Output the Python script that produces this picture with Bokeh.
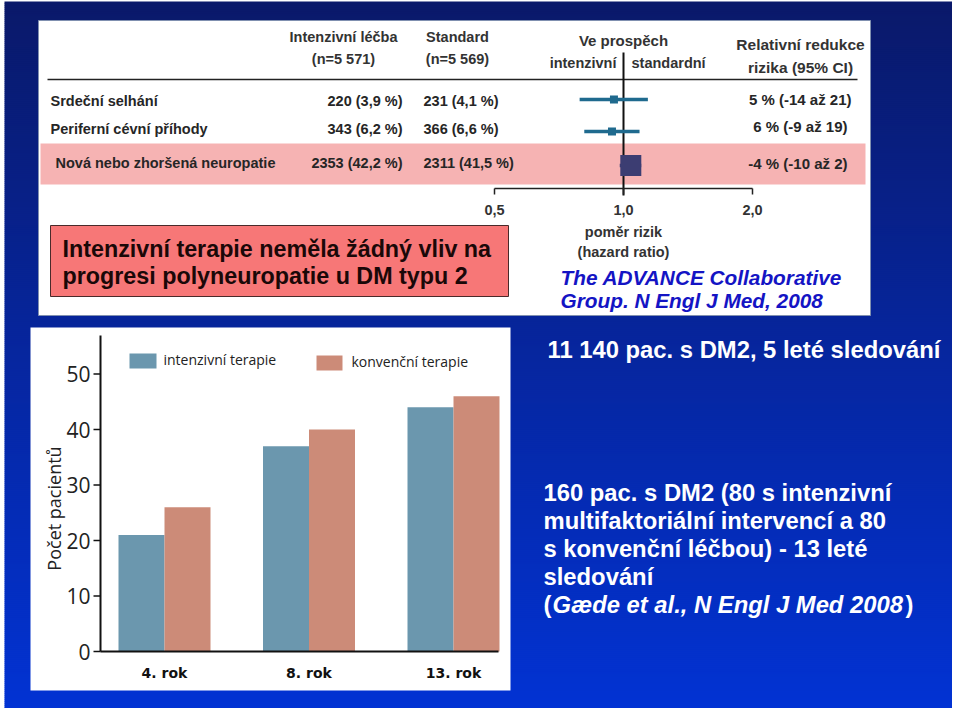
import numpy as np
from bokeh.plotting import figure
from bokeh.models import Range1d
from bokeh.core.properties import value
from bokeh.embed import file_html
from bokeh.resources import INLINE

# ---------------- data ----------------
# ADVANCE table / forest plot
outcomes = ["Srdeční selhání", "Periferní cévní příhody", "Nová nebo zhoršená neuropatie"]
intensive_n = ["220 (3,9 %)", "343 (6,2 %)", "2353 (42,2 %)"]
standard_n = ["231 (4,1 %)", "366 (6,6 %)", "2311 (41,5 %)"]
hr = [0.95, 0.94, 1.04]
hr_lo = [0.79, 0.81, 0.98]
hr_hi = [1.14, 1.09, 1.10]
rrr_text = ["5 % (-14 až 21)", "6 % (-9 až 19)", "-4 % (-10 až 2)"]
hr_ticks = [0.5, 1.0, 2.0]
hr_tick_labels = ["0,5", "1,0", "2,0"]

# Steno-2 bar chart
years = ["4. rok", "8. rok", "13. rok"]
intenzivni = [21, 37, 44]
konvencni = [26, 40, 46]
bar_ticks = [0, 10, 20, 30, 40, 50]

# ---------------- figure (pixel coordinates of the slide) ----------------
W, H = 952, 708
X0, Y0 = 0, 0
p = figure(width=W, height=H, x_range=Range1d(X0, X0 + W), y_range=Range1d(Y0 + H, Y0),
           output_backend="svg", toolbar_location=None, min_border=0,
           x_axis_location=None, y_axis_location=None)
p.grid.visible = False
p.outline_line_color = None
p.background_fill_color = "white"
p.border_fill_color = "white"


def lin_range(v0, px0, v1, px1, lo, hi):
    k = (px1 - px0) / (v1 - v0)
    return Range1d(start=v0 + (lo - px0) / k, end=v0 + (hi - px0) / k)


# forest plot x (log2 of hazard ratio), bar chart x and y
p.extra_x_ranges = {
    "hr": lin_range(-1, 494, 1, 752, X0, X0 + W),
    "bx": lin_range(0, 164, 2, 453, X0, X0 + W),
}
p.extra_y_ranges = {"by": lin_range(0, 651, 50, 373.5, Y0 + H, Y0)}

# ---------------- background gradient ----------------
def hex2rgb(h):
    return [int(h[i:i + 2], 16) for i in (1, 3, 5)]

c_top, c_bot = hex2rgb("#0a196a"), hex2rgb("#0233d4")
edges = np.arange(1, Y0 + H + 2, 2)
cols = []
for e in edges[:-1]:
    t = (e - 1) / 712
    rgb = [int(round(a + (b - a) * t)) for a, b in zip(c_top, c_bot)]
    cols.append("#%02x%02x%02x" % tuple(rgb))
p.quad(left=4, right=X0 + W, top=edges[:-1], bottom=edges[1:] + 0.5, fill_color=cols, line_color=None)

SANS = value("Liberation Sans")

# ---------------- top panel ----------------
p.quad(left=38, right=870, top=20, bottom=315, fill_color="white", line_color="#8090b0", line_width=1)
# pink highlight band
p.quad(left=40, right=865, top=143, bottom=184, fill_color="#f6b3b3", line_color=None)

TXT = "#262626"
hdr = dict(text_font=SANS, text_font_style="bold", text_font_size="14.5px", text_color="#333333",
           text_baseline="middle")
p.text(x=[343, 343, 457, 457], y=[36, 58, 36, 58],
       text=["Intenzivní léčba", "(n=5 571)", "Standard", "(n=5 569)"], text_align="center", **hdr)
p.text(x=[623], y=[40], text=["Ve prospěch"], text_align="center",
       **{**hdr, "text_font_size": "15px"})
p.text(x=[616], y=[62], text=["intenzivní"], text_align="right", **hdr)
p.text(x=[631], y=[62], text=["standardní"], text_align="left", **hdr)
p.text(x=[800, 800], y=[44, 67], text=["Relativní redukce", "rizika (95% CI)"], text_align="center",
       **{**hdr, "text_font_size": "15.5px"})
p.segment(x0=[47], x1=[857], y0=[79], y1=[79], line_color="#222222", line_width=1.5)

ROW_Y = [100, 128, 162]
FOREST_Y = [99, 131, 165]
row = dict(text_font=SANS, text_font_style="bold", text_font_size="14.5px", text_color=TXT,
           text_baseline="middle")
p.text(x=[50, 50, 55], y=ROW_Y, text=outcomes, text_align="left", **row)
p.text(x=[402] * 3, y=ROW_Y, text=intensive_n, text_align="right", **row)
p.text(x=[423] * 3, y=ROW_Y, text=standard_n, text_align="left", **row)
p.text(x=[851, 847, 847], y=[99, 126, 163], text=rrr_text, text_align="right",
       **{**row, "text_font_size": "15px"})

# forest plot
p.segment(x0=[623], x1=[623], y0=[52], y1=[195], line_color="#111111", line_width=2)
lg_ticks = np.log2(hr_ticks)
p.segment(x0=[lg_ticks[0]], x1=[lg_ticks[-1]], y0=[188], y1=[188], x_range_name="hr",
          line_color="#222222", line_width=1.5)
p.segment(x0=lg_ticks, x1=lg_ticks, y0=[188] * 3, y1=[194] * 3, x_range_name="hr",
          line_color="#222222", line_width=1.5)
p.segment(x0=np.log2(hr_lo), x1=np.log2(hr_hi), y0=FOREST_Y, y1=FOREST_Y, x_range_name="hr",
          line_color=["#1f6a8e", "#1f6a8e", "#3c3d72"], line_width=3.5)
p.scatter(x=np.log2(hr), y=FOREST_Y, x_range_name="hr", marker="square", size=[8, 8, 21],
          fill_color=["#1f6a8e", "#1f6a8e", "#3c3d72"], line_color=None)
p.text(x=lg_ticks, y=[209] * 3, text=hr_tick_labels, x_range_name="hr", text_align="center", **hdr)
p.text(x=[623, 623], y=[231, 251], text=["poměr rizik", "(hazard ratio)"], text_align="center", **hdr)

# conclusion box
p.quad(left=50, right=508, top=225, bottom=296, fill_color="#f77777", line_color="#4a2a2a", line_width=1)
p.text(x=[62, 62], y=[248, 275],
       text=["Intenzivní terapie neměla žádný vliv na", "progresi polyneuropatie u DM typu 2"],
       text_font=SANS, text_font_style="bold", text_font_size="23.3px", text_color="#1a0808",
       text_align="left", text_baseline="middle")

# citation
p.text(x=[560, 560], y=[277, 300], text=["The ADVANCE Collaborative", "Group. N Engl J Med, 2008"],
       text_font=SANS, text_font_style="bold italic", text_font_size="20.8px", text_color="#1414c4",
       text_align="left", text_baseline="middle")

# ---------------- right texts ----------------
white = dict(text_font=SANS, text_font_style="bold", text_font_size="23.8px", text_color="white",
             text_align="left", text_baseline="middle")
p.text(x=[547], y=[349], text=["11 140 pac. s DM2, 5 leté sledování"], **white)
p.text(x=[543] * 4, y=[492, 520, 548, 576],
       text=["160 pac. s DM2 (80 s intenzivní", "multifaktoriální intervencí a 80",
             "s konvenční léčbou) - 13 leté", "sledování"], **white)
p.text(x=[543], y=[604], text=["("], **white)
p.text(x=[552], y=[604], text=["Gæde et al., N Engl J Med 2008"],
       text_font=SANS, text_font_style="bold italic", text_font_size="23.8px", text_color="white",
       text_align="left", text_baseline="middle")
p.text(x=[905], y=[604], text=[")"], **white)

# ---------------- bottom-left bar chart ----------------
p.quad(left=30, right=510, top=327, bottom=690, fill_color="white", line_color=None)

gx = np.arange(len(years))
bw = 46 / 144.5
p.vbar(x=gx - bw / 2, top=intenzivni, bottom=0, width=bw, x_range_name="bx", y_range_name="by",
       fill_color="#6b97ae", line_color=None)
p.vbar(x=gx + bw / 2, top=konvencni, bottom=0, width=bw, x_range_name="bx", y_range_name="by",
       fill_color="#cc8b78", line_color=None)

# axes
p.segment(x0=[100], x1=[100], y0=[335], y1=[651], line_color="#111111", line_width=2)
p.segment(x0=[100], x1=[498], y0=[651], y1=[651], line_color="#111111", line_width=2)
p.segment(x0=[93] * len(bar_ticks), x1=[100] * len(bar_ticks), y0=bar_ticks, y1=bar_ticks,
          y_range_name="by", line_color="#111111", line_width=1.5)
p.text(x=[90] * len(bar_ticks), y=bar_ticks, text=[str(t) for t in bar_ticks], y_range_name="by",
       text_font=value("Open Sans"), text_font_size="21px", text_color="#222222",
       text_align="right", text_baseline="middle")
p.text(x=gx, y=[672] * 3, text=years, x_range_name="bx",
       text_font=value("DejaVu Sans"), text_font_style="bold", text_font_size="14px",
       text_color="#111111", text_align="center", text_baseline="middle")
p.text(x=[53], y=[508], text=["Počet pacientů"], angle=np.pi / 2,
       text_font=value("Open Sans"), text_font_size="18px", text_color="#222222",
       text_align="center", text_baseline="middle")

# legend
p.quad(left=[129, 316], right=[156, 342], top=[353, 355], bottom=[368, 370],
       fill_color=["#6b97ae", "#cc8b78"], line_color=None)
p.text(x=[163, 351], y=[359, 361], text=["intenzivní terapie", "konvenční terapie"],
       text_font=value("Open Sans"), text_font_size="14px", text_color="#222222",
       text_align="left", text_baseline="middle")

open("out.html", "w").write(file_html(p, INLINE))
